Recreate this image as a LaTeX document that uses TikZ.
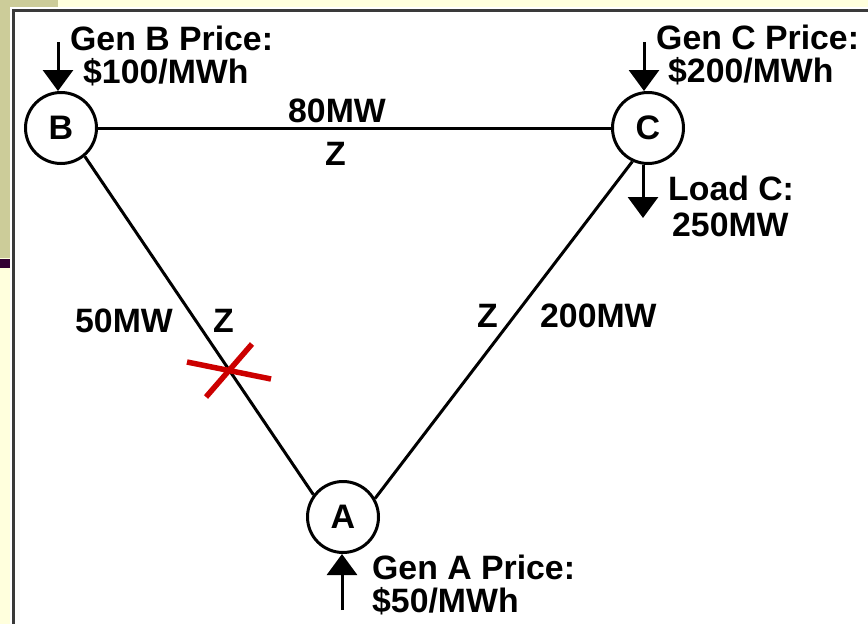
\documentclass[tikz,border=0pt]{standalone}
\usepackage{fontspec}
\setmainfont{Liberation Sans}
\usetikzlibrary{arrows.meta}
\definecolor{olive}{HTML}{CCCC99}
\definecolor{cream}{HTML}{FFFFDD}
\definecolor{plum}{HTML}{330033}
\definecolor{frame}{HTML}{3A3A3A}
\definecolor{xred}{HTML}{CC0000}
\tikzset{
  lbl/.style={font=\bfseries\fontsize{33.8}{33.8}\selectfont, inner sep=0pt, anchor=base west},
  bus/.style={circle, draw, line width=3pt, minimum size=71pt, inner sep=0pt, font=\bfseries\fontsize{34}{34}\selectfont},
  wire/.style={line width=3pt},
  inj/.style={line width=3pt, -{Triangle[width=30pt,length=21pt]}},
  cut/.style={xred, line width=5.5pt}
}
\begin{document}
\begin{tikzpicture}[x=1pt,y=-1pt]
\useasboundingbox (0,0) rectangle (868,624);
% background
\fill[cream] (0,0) rectangle (868,624);
\fill[olive] (0,0) rectangle (58,258);
\fill[plum] (0,259) rectangle (10,268);
\fill[white] (10,7) rectangle (870,626);
\draw[frame, line width=3pt] (13.5,626) -- (13.5,10.5) -- (870,10.5);
% buses
\node[bus] (B) at (61,128) {B};
\node[bus] (C) at (648,128) {C};
\node[bus] (A) at (343,517) {A};
% lines
\draw[wire] (B.east) -- (C.west);
\draw[wire] (B.-50) -- (A.143);
\draw[wire] (A.30) -- (C.-115);
% injections
\coordinate (gB) at (58,42);
\coordinate (gC) at (644,42);
\coordinate (lC) at (643,218);
\coordinate (gA) at (342,610);
\draw[inj] (gB) -- (gB |- B.north);
\draw[inj] (gC) -- (gC |- C.north);
\draw[inj] (lC |- C.south) -- (lC);
\draw[inj] (gA) -- (gA |- A.south);
% cut mark
\coordinate (x1) at (187,362);
\coordinate (x2) at (271,379);
\coordinate (x3) at (252,344);
\coordinate (x4) at (206,397);
\draw[cut] (x1) -- (x2);
\draw[cut] (x3) -- (x4);
% labels
\node[lbl] (tB1) at (70,50) {Gen B Price:};
\node[lbl] (tB2) at (83,83.5) {\$100/MWh};
\node[lbl] (tC1) at (656,49) {Gen C Price:};
\node[lbl] (tC2) at (668,82.5) {\$200/MWh};
\node[lbl] (tL1) at (668,200) {Load C:};
\node[lbl] (tL2) at (672,236) {250MW};
\node[lbl] (fBC) at (288,122) {80MW};
\node[lbl] (zBC) at (325,165) {Z};
\node[lbl] (fBA) at (75,332) {50MW};
\node[lbl] (zBA) at (213,332) {Z};
\node[lbl] (zAC) at (477,327) {Z};
\node[lbl] (fAC) at (540,327) {200MW};
\node[lbl] (tA1) at (372,579) {Gen A Price:};
\node[lbl] (tA2) at (372,612.5) {\$50/MWh};
\end{tikzpicture}
\end{document}
